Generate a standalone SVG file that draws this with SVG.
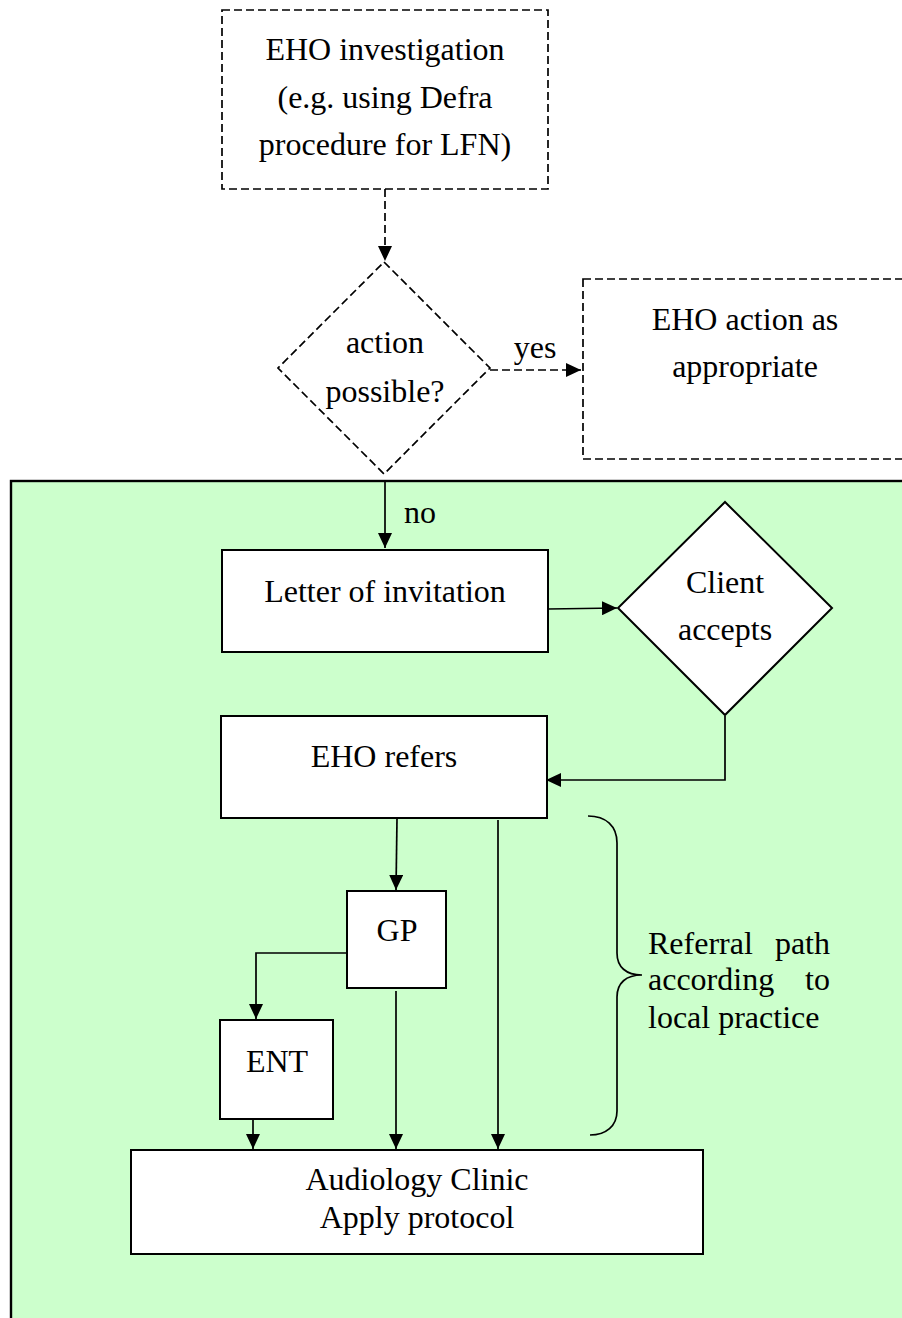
<svg xmlns="http://www.w3.org/2000/svg" width="902" height="1318" viewBox="0 0 902 1318">
<style>
text{font-family:"Liberation Serif","Times New Roman",serif;font-size:32px;fill:#000;}
.c{text-anchor:middle;}
.box{fill:#fff;stroke:#000;stroke-width:2;}
.dbox{fill:none;stroke:#000;stroke-width:1.7;stroke-dasharray:8,4;}
.line{fill:none;stroke:#000;stroke-width:1.7;}
.dline{fill:none;stroke:#000;stroke-width:1.7;stroke-dasharray:8,4;}
</style>
<defs>
<marker id="ah" markerUnits="userSpaceOnUse" markerWidth="16" markerHeight="14" refX="15" refY="7" orient="auto">
<path d="M0,0 L15,7 L0,14 z" fill="#000"/>
</marker>
</defs>
<rect width="902" height="1318" fill="#fff"/>
<g id="green-area">
<rect x="11" y="481" width="1000" height="1000" fill="#CCFFCC" stroke="#000" stroke-width="2.4"/>
</g>
<g id="eho-investigation">
<rect class="dbox" x="222" y="10" width="326" height="179"/>
<text class="c" x="385" y="60">EHO investigation</text>
<text class="c" x="385" y="108">(e.g. using Defra</text>
<text class="c" x="385" y="155">procedure for LFN)</text>
</g>
<g id="action-possible">
<polygon class="dbox" points="384,262 490,368 384,474 278,368"/>
<text class="c" x="385" y="353">action</text>
<text class="c" x="385" y="402">possible?</text>
</g>
<g id="eho-action">
<rect class="dbox" x="583" y="279" width="340" height="180"/>
<text class="c" x="745" y="330">EHO action as</text>
<text class="c" x="745" y="377">appropriate</text>
</g>
<g id="letter">
<rect class="box" x="222" y="550" width="326" height="102"/>
<text class="c" x="385" y="602">Letter of invitation</text>
</g>
<g id="client-accepts">
<polygon class="box" points="725,502 832,608 725,715 618,608"/>
<text class="c" x="725" y="593">Client</text>
<text class="c" x="725" y="640">accepts</text>
</g>
<g id="eho-refers">
<rect class="box" x="221" y="716" width="326" height="102"/>
<text class="c" x="384" y="767">EHO refers</text>
</g>
<g id="gp">
<rect class="box" x="347" y="891" width="99" height="97"/>
<text class="c" x="397" y="941">GP</text>
</g>
<g id="ent">
<rect class="box" x="220" y="1020" width="113" height="99"/>
<text class="c" x="277" y="1072">ENT</text>
</g>
<g id="audiology">
<rect class="box" x="131" y="1150" width="572" height="104"/>
<text class="c" x="417" y="1190">Audiology Clinic</text>
<text class="c" x="417" y="1228">Apply protocol</text>
</g>
<g id="referral-note">
<path class="line" d="M588,816 C606,816 617,826 617,843 L617,953 C617,967 626,975 642,975 C626,975 617,983 617,997 L617,1111 C617,1126 606,1135 590,1135"/>
<text x="648" y="954">Referral</text>
<text x="830" y="954" text-anchor="end">path</text>
<text x="648" y="990">according</text>
<text x="830" y="990" text-anchor="end">to</text>
<text x="648" y="1028">local practice</text>
</g>
<g id="connectors">
<path class="dline" d="M385,189 L385,261" marker-end="url(#ah)"/>
<path class="dline" d="M490,370 L581,370" marker-end="url(#ah)"/>
<text class="c" x="535" y="358">yes</text>
<path class="line" d="M385,481 L385,548" marker-end="url(#ah)"/>
<text x="404" y="523">no</text>
<path class="line" d="M548,609 L617,608" marker-end="url(#ah)"/>
<path class="line" d="M725,716 L725,780 L546,780" marker-end="url(#ah)"/>
<path class="line" d="M397,819 L396,890" marker-end="url(#ah)"/>
<path class="line" d="M498,820 L498,1149" marker-end="url(#ah)"/>
<path class="line" d="M347,953 L256,953 L256,1019" marker-end="url(#ah)"/>
<path class="line" d="M396,991 L396,1149" marker-end="url(#ah)"/>
<path class="line" d="M253,1119 L253,1149" marker-end="url(#ah)"/>
</g>
</svg>
